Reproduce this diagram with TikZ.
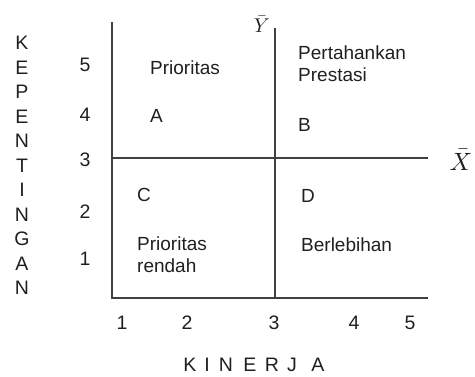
\documentclass[tikz,border=0pt]{standalone}
\usepackage{fontspec}
\setmainfont{Liberation Sans}
\begin{document}
\begin{tikzpicture}[x=1pt,y=-1pt,
  axis/.style={draw=black!75,line width=1.4pt},
  lbl/.style={font=\fontsize{19.5}{21}\selectfont,text=black!88,inner sep=0pt},
  qtxt/.style={lbl,anchor=west,align=left,font=\fontsize{19}{22}\selectfont}]
\useasboundingbox (0,0) rectangle (475,376);
% axes
\coordinate (tl) at (112,22);
\coordinate (bl) at (112,298);
\coordinate (br) at (428,298);
\coordinate (vt) at (275,28);
\coordinate (vb) at (275,298);
\coordinate (hl) at (113,158);
\coordinate (hr) at (428,158);
\draw[axis] (tl) -- (bl) -- (br);
\draw[axis] (vt) -- (vb);
\draw[axis] (hl) -- (hr);
% mean labels
\node[inner sep=0pt,scale=2.0,text=black!88] (ybar) at (262,24) {$\bar{Y}$};
\node[inner sep=0pt,scale=2.5,text=black!88] (xbar) at (461,160) {$\bar{X}$};
% vertical title
\foreach \l [count=\i from 0] in {K,E,P,E,N,T,I,N,G,A,N}
  \node[lbl] (v\i) at (22,{43+24.5*\i}) {\l};
% y ticks
\node[lbl] (y5) at (85,65) {5};
\node[lbl] (y4) at (85,115) {4};
\node[lbl] (y3) at (85,160) {3};
\node[lbl] (y2) at (85,212) {2};
\node[lbl] (y1) at (85,259) {1};
% x ticks
\node[lbl] (x1) at (122,323) {1};
\node[lbl] (x2) at (187,323) {2};
\node[lbl] (x3) at (274,323) {3};
\node[lbl] (x4) at (354,323) {4};
\node[lbl] (x5) at (410,323) {5};
% x title
\foreach \l/\x [count=\i from 0] in {K/190,I/207,N/226,E/250,R/272,J/292,A/318}
  \node[lbl] (k\i) at (\x,365) {\l};
% quadrants
\node[qtxt] (qa) at (150,68) {Prioritas};
\node[qtxt] (a) at (150,116) {A};
\node[qtxt] (qb) at (298,64) {Pertahankan\\Prestasi};
\node[qtxt] (b) at (298,125) {B};
\node[qtxt] (c) at (137,195) {C};
\node[qtxt] (qc) at (137,255) {Prioritas\\rendah};
\node[qtxt] (d) at (301,196) {D};
\node[qtxt] (qd) at (301,245) {Berlebihan};
\end{tikzpicture}
\end{document}
